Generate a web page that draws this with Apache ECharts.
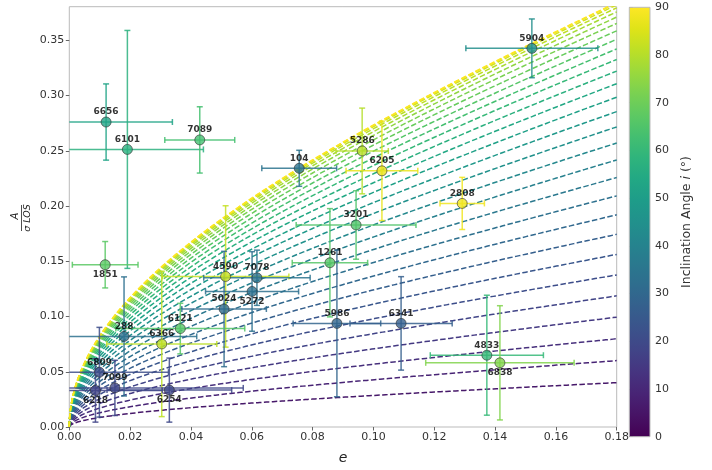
<!DOCTYPE html>
<html><head><meta charset="utf-8">
<script src="https://cdn.jsdelivr.net/npm/echarts/dist/echarts.min.js"></script>
<style>html,body{margin:0;padding:0;background:#fff}#c{width:712px;height:470px}</style>
</head><body><div id="c"></div>
<script>
// ---- data ----
const clusters      = ['5904','6656','6101','7089','104','5286','6205','2808','3201','1261','1851','4590','7078','5272','5024','6121','6366','288','6809','7099','6218','6254','5986','6341','4833','6838'];
const ellipticity   = [0.1521,0.0121,0.0191,0.0429,0.0756,0.0963,0.1028,0.1292,0.0943,0.0857,0.0118,0.0514,0.0617,0.0601,0.0509,0.0365,0.0304,0.0180,0.0099,0.0150,0.0086,0.0329,0.0880,0.1091,0.1373,0.1416];
const ellipticityErr= [0.0217,0.0218,0.0250,0.0115,0.0123,0.0086,0.0118,0.0073,0.0197,0.0124,0.0108,0.0208,0.0175,0.0153,0.0139,0.0212,0.0181,0.0239,0.0227,0.0422,0.0220,0.0205,0.0144,0.0168,0.0186,0.0244];
const ampRatio      = [0.3428,0.2761,0.2513,0.2599,0.2342,0.2499,0.2319,0.2024,0.1829,0.1487,0.1469,0.1363,0.1351,0.1227,0.1068,0.0891,0.0752,0.0820,0.0496,0.0354,0.0331,0.0334,0.0938,0.0938,0.0650,0.0581];
const ampRatioErr   = [0.0266,0.0345,0.1077,0.0300,0.0163,0.0388,0.0450,0.0236,0.0310,0.0490,0.0210,0.0640,0.0250,0.0360,0.0522,0.0229,0.0658,0.0539,0.0406,0.0250,0.0287,0.0290,0.0664,0.0423,0.0543,0.0517];
const inclination   = [44,52,57,63,34,80,87,88,65,66,67,82,34,33,31,66,81,33,21,19,18,19.5,29,27,60,73];
const labelsBelow   = ['1851','5272','6218','6254','6838'];
// model curves (isotropic rotator), one per inclination
const modelInclinations = [6,9,12,15,18,21,24,27,30,33,36,39,42,45,48,51,54,57,60,63,66,69,72,75,78,81,84,87,90];
const colorbarTicks = [0,10,20,30,40,50,60,70,80,90];

const XMAX = 0.18, YMAX = 0.3805;
const VIR = ['#440154','#471365','#482475','#463480','#414487','#3b528b','#355f8d','#2f6c8e','#2a788e','#25848e','#21918c','#1e9c89','#22a884','#2fb47c','#44bf70','#5ec962','#7ad151','#9bd93c','#bddf26','#dfe318','#fde725'];
function hex(c){return [parseInt(c.slice(1,3),16),parseInt(c.slice(3,5),16),parseInt(c.slice(5,7),16)];}
function viridis(t){
  t=Math.max(0,Math.min(1,t)); const p=t*(VIR.length-1); const i=Math.min(Math.floor(p),VIR.length-2); const f=p-i;
  const a=hex(VIR[i]), b=hex(VIR[i+1]);
  return 'rgb('+a.map((v,k)=>Math.round(v+(b[k]-v)*f)).join(',')+')';
}
function edgeOn(x){ return 0.82*Math.sqrt(x/(1-x)); }

const xs=[]; const N=300; for(let k=0;k<=N;k++){ xs.push(XMAX*Math.pow(k/N,2)); }

const series=[];
modelInclinations.forEach(inc=>{
  const s=Math.sin(inc*Math.PI/180);
  series.push({type:'line', xAxisIndex:0, yAxisIndex:0, data: xs.map(x=>[x, edgeOn(x)*s]), symbol:'none', showSymbol:false, silent:true, z:1, clip:true,
    lineStyle:{color:viridis(inc/90), width:1.5, type:[5.5,2.4]}});
});

const pointColors = inclination.map(i=>viridis(i/90));
const errData = clusters.map((n,k)=>[ellipticity[k], ampRatio[k], ellipticityErr[k], ampRatioErr[k], k]);
series.push({
  type:'custom', xAxisIndex:0, yAxisIndex:0, z:3, silent:true, data: errData,
  encode:{x:0,y:1},
  renderItem:function(params, api){
    const x=api.value(0), y=api.value(1), xe=api.value(2), ye=api.value(3), k=api.value(4);
    const col=pointColors[k];
    const cap=3;
    const xl=Math.max(0,x-xe), xr=Math.min(XMAX,x+xe), yb=Math.max(0,y-ye), yt=Math.min(YMAX,y+ye);
    const P=(a,b)=>api.coord([a,b]);
    const st={stroke:col, lineWidth:1.5, opacity:0.85};
    const ch=[];
    const h1=P(xl,y), h2=P(xr,y), v1=P(x,yb), v2=P(x,yt);
    ch.push({type:'line', shape:{x1:h1[0],y1:h1[1],x2:h2[0],y2:h2[1]}, style:st});
    ch.push({type:'line', shape:{x1:v1[0],y1:v1[1],x2:v2[0],y2:v2[1]}, style:st});
    if(xl===x-xe) ch.push({type:'line', shape:{x1:h1[0],y1:h1[1]-cap,x2:h1[0],y2:h1[1]+cap}, style:st});
    if(xr===x+xe) ch.push({type:'line', shape:{x1:h2[0],y1:h2[1]-cap,x2:h2[0],y2:h2[1]+cap}, style:st});
    if(yb===y-ye) ch.push({type:'line', shape:{x1:v1[0]-cap,y1:v1[1],x2:v1[0]+cap,y2:v1[1]}, style:st});
    if(yt===y+ye) ch.push({type:'line', shape:{x1:v2[0]-cap,y1:v2[1],x2:v2[0]+cap,y2:v2[1]}, style:st});
    return {type:'group', children:ch};
  }
});
series.push({
  type:'scatter', xAxisIndex:0, yAxisIndex:0, z:5, symbolSize:10,
  data: clusters.map((n,k)=>({name:n, value:[ellipticity[k], ampRatio[k]],
    itemStyle:{color:pointColors[k], borderColor:'#333', borderWidth:0.8},
    label:{position: labelsBelow.includes(n)?'bottom':'top'}})),
  label:{show:true, formatter:'{b}', distance:0, fontFamily:'DejaVu Sans', fontWeight:'bold', fontSize:9, color:'#000'},
  labelLayout:{hideOverlap:false}
});
// colorbar
series.push({
  type:'custom', xAxisIndex:1, yAxisIndex:1, silent:true, data:[[0,0]],
  renderItem:function(params, api){
    const cs=params.coordSys;
    const stops=VIR.map((c,i)=>({offset:i/(VIR.length-1), color:c}));
    return {type:'rect', shape:{x:cs.x,y:cs.y,width:cs.width,height:cs.height},
      style:{fill:new echarts.graphic.LinearGradient(0,1,0,0,stops)}};
  }
});

const chart=echarts.init(document.getElementById('c'),null,{renderer:'canvas'});
const axisLbl={fontFamily:'DejaVu Sans', fontSize:11, color:'#333'};
chart.setOption({
  animation:false,
  backgroundColor:'#fff',
  grid:[
    {left:69.3, right:95.3, top:6.7, bottom:33.3, show:true, borderColor:'#bbb', borderWidth:1},
    {left:629.3, width:20.7, top:7.3, bottom:33.3, show:true, borderColor:'#bbb', borderWidth:1, z:3}
  ],
  xAxis:[
    {type:'value', gridIndex:0, min:0, max:XMAX, interval:0.02,
     axisLine:{show:false}, splitLine:{show:false},
     axisTick:{show:true, inside:false, length:3.5, lineStyle:{color:'#666'}},
     axisLabel:Object.assign({formatter:v=>v.toFixed(2), margin:5}, axisLbl),
     name:'e', nameLocation:'middle', nameGap:24,
     nameTextStyle:{fontFamily:'DejaVu Sans', fontStyle:'italic', fontSize:14, color:'#222'}},
    {type:'value', gridIndex:1, min:0, max:1, show:false}
  ],
  yAxis:[
    {type:'value', gridIndex:0, min:0, max:YMAX, interval:0.05,
     axisLine:{show:false}, splitLine:{show:false},
     axisTick:{show:true, inside:false, length:3.5, lineStyle:{color:'#666'}},
     axisLabel:Object.assign({formatter:v=>v.toFixed(2), margin:5, showMaxLabel:false}, axisLbl)},
    {type:'value', gridIndex:1, min:0, max:90, interval:10, position:'right',
     axisLine:{show:false}, splitLine:{show:false},
     axisTick:{show:true, inside:false, length:3.5, lineStyle:{color:'#666'}},
     axisLabel:Object.assign({margin:5, formatter:v=>String(v)}, axisLbl),
     name:'{n|Inclination Angle }{i|i}{n| (°)}', nameLocation:'middle', nameGap:30, nameRotate:90,
     nameTextStyle:{rich:{n:{fontFamily:'DejaVu Sans', fontSize:12.5, color:'#333'}, i:{fontFamily:'DejaVu Sans', fontStyle:'italic', fontSize:12.5, color:'#333'}}}}
  ],
  graphic:[{
    type:'group', x:21.5, y:218, rotation:Math.PI/2,
    children:[
      {type:'text', x:2, y:-6, style:{text:'A', font:'italic 10px DejaVu Sans', fill:'#222', align:'center', verticalAlign:'middle'}},
      {type:'line', shape:{x1:-13,y1:0,x2:13,y2:0}, style:{stroke:'#222', lineWidth:0.8}},
      {type:'text', x:0, y:6.5, style:{text:'σ LOS', font:'italic 9.5px DejaVu Sans', fill:'#222', align:'center', verticalAlign:'middle'}}
    ]
  }],
  series:series
});
</script></body></html>
